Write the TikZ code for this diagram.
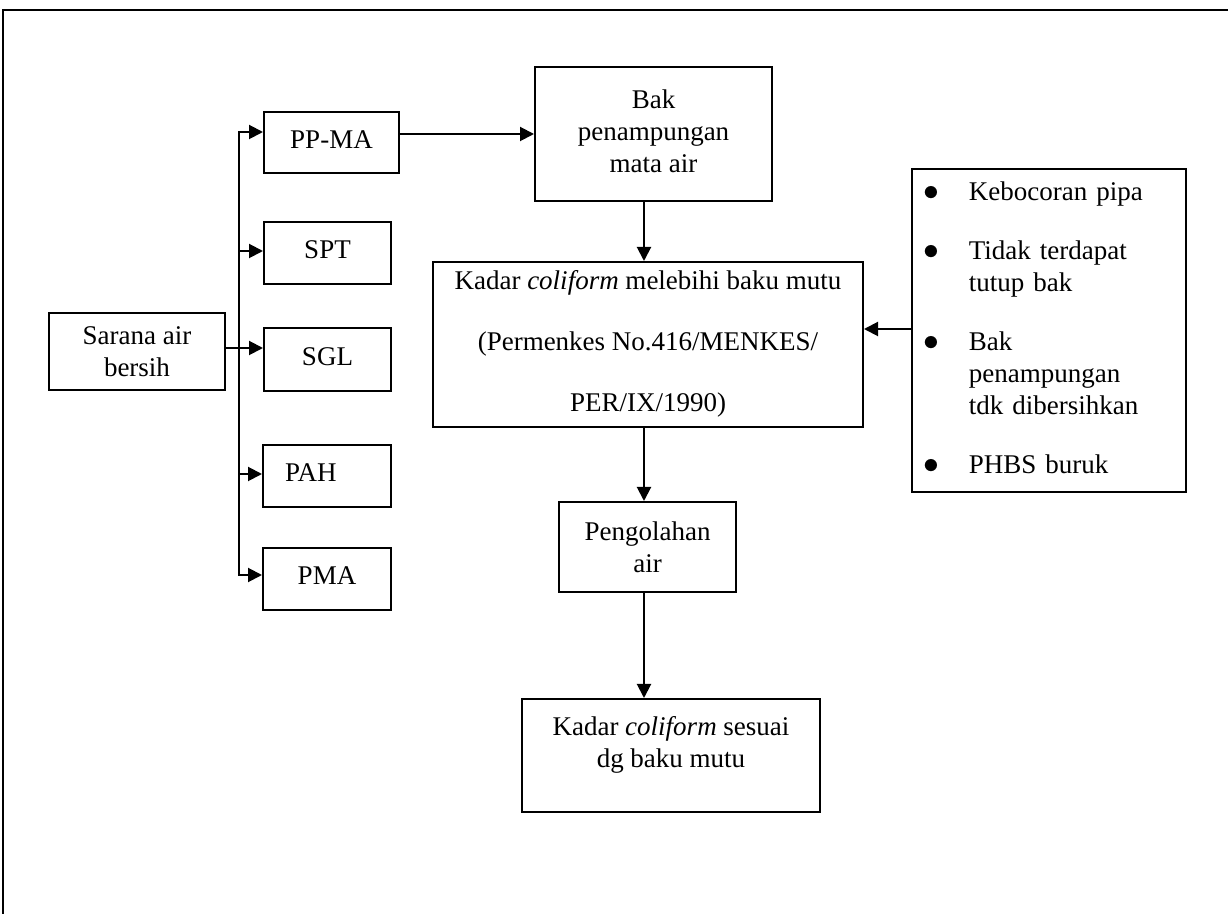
\documentclass[tikz,border=0pt]{standalone}
\usepackage{fontspec}
\setmainfont{Liberation Serif}
\usetikzlibrary{arrows.meta,calc}
\tikzset{
  box/.style={draw, line width=1pt, rectangle, inner sep=0pt, align=center,
    font=\fontsize{13.5}{16}\selectfont},
  arr/.style={line width=1pt, -{Triangle[length=7pt,width=7pt]}},
  frameline/.style={line width=1.2pt}
}
\newcommand{\bul}{\scalebox{1.1}{$\bullet$}}
\begin{document}
\begin{tikzpicture}[x=0.5pt,y=-0.5pt]
\useasboundingbox (0,0) rectangle (1228,914);
% frame
\coordinate (fa) at (3,914);
\coordinate (fb) at (3,10);
\coordinate (fc) at (1228,10);
\draw[frameline] (fa) -- (fb) -- (fc);

% left column
\node[box, minimum width=88pt, minimum height=38.5pt] (sarana) at (137,352) {Sarana air\\bersih};
\node[box, minimum width=67.5pt, minimum height=30.5pt] (ppma) at (331.5,142.5) {\raisebox{3pt}{PP-MA}};
\node[box, minimum width=63.5pt, minimum height=31pt] (spt) at (327.5,253) {\raisebox{3pt}{SPT}};
\node[box, minimum width=63.5pt, minimum height=31.5pt] (sgl) at (327.5,359.5) {\raisebox{3pt}{SGL}};
\node[box, minimum width=64pt, minimum height=31pt, text width=42pt, align=left, inner xsep=11pt] (pah) at (327,476) {\raisebox{3pt}{PAH}};
\node[box, minimum width=64pt, minimum height=31pt] (pma) at (327,579) {\raisebox{3pt}{PMA}};

\coordinate (j1) at (239,132);
\coordinate (j2) at (239,251);
\coordinate (j3) at (239,348);
\coordinate (j4) at (239,474);
\coordinate (j5) at (239,575);

\draw[line width=1pt, {Triangle[length=7pt,width=7pt]}-{Triangle[length=7pt,width=7pt]}]
  (j1 -| ppma.west) -- (j1) -- (j5) -- (j5 -| pma.west);
\draw[arr] (j2) -- (j2 -| spt.west);
\draw[arr] (j4) -- (j4 -| pah.west);
\draw[line width=1pt] (sarana.east |- j3) -- (j3);
\draw[arr] (j3) -- (j3 -| sgl.west);

% middle column
\node[box, minimum width=118.5pt, minimum height=67pt] (bak) at (653.5,134) {\raisebox{2pt}{\begin{tabular}{@{}c@{}}Bak\\penampungan\\mata air\end{tabular}}};
\node[box, minimum width=215pt, minimum height=82.5pt] (kadar) at (648,344.5)
  {\raisebox{-2pt}{\begin{tabular}{@{}c@{}}Kadar \textit{coliform} melebihi baku mutu\\[14.5pt](Permenkes No.416/MENKES/\\[14.5pt]PER/IX/1990)\end{tabular}}};
\node[box, minimum width=88.5pt, minimum height=45pt] (olah) at (647.5,547) {Pengolahan\\air};
\node[box, minimum width=149pt, minimum height=56.5pt, text depth=14pt] (final) at (671,755.5)
  {Kadar \textit{coliform} sesuai\\dg baku mutu};

\coordinate (ax) at (644,0);
\draw[arr] (ppma.east |- bak.west) -- (bak.west);
\draw[arr] (ax |- bak.south) -- (ax |- kadar.north);
\draw[arr] (ax |- kadar.south) -- (ax |- olah.north);
\draw[arr] (ax |- olah.south) -- (ax |- final.north);

% right box
\node[box, minimum width=137pt, minimum height=161.5pt, text width=126pt, align=left, inner xsep=5.5pt] (causes) at (1049,330.5)
  {\begin{tabular}{@{}l@{\hspace{15pt}}l@{}}
   \bul & Kebocoran pipa\\[13.5pt]
   \bul & Tidak terdapat\\
        & tutup bak\\[13.5pt]
   \bul & Bak\\
        & penampungan\\
        & tdk dibersihkan\\[13.5pt]
   \bul & PHBS buruk
   \end{tabular}};
\coordinate (cin) at (912,329);
\draw[arr] (cin) -- (cin -| kadar.east);
\end{tikzpicture}
\end{document}
